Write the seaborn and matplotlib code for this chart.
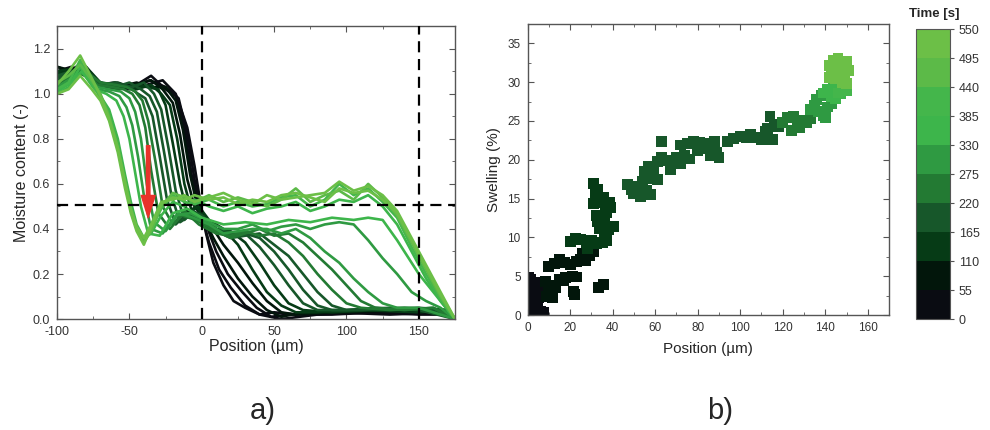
import numpy as np
import pandas as pd
import seaborn as sns
import matplotlib
matplotlib.use("Agg")
import matplotlib.pyplot as plt
from matplotlib.colors import ListedColormap, BoundaryNorm
from matplotlib.ticker import MultipleLocator

# time colour steps (0..550 s, 55 s bins)
time_bounds = list(range(0, 551, 55))
time_colors = ['#0a0c12', '#02160b', '#063b16', '#17572a', '#237a33',
               '#2f9a42', '#3db54b', '#44b64b', '#5cba48', '#6cbf47']

# a) moisture profiles, one per time step
curve_times = [5, 20, 40, 65, 90, 115, 140, 165, 190, 215, 240, 265, 290, 315, 340,
               380, 430, 480, 520, 545]

light_x = [-100, -92, -84, -76, -70, -64, -58, -53, -49, -45, -40, -35, -28, -20, -12, -5,
           5, 15, 25, 35, 45, 55, 65, 75, 85, 95, 105, 115, 125, 135, 145, 155, 165, 175]

curve_x = [
    [-100, -92, -84, -75, -62, -50, -38, -27, -18, -10, -5, -1, 3, 8, 15, 22, 30, 40, 50, 65, 90, 120, 150, 170, 175],
    [-100, -90, -82, -72, -60, -48, -36, -25, -16, -10, -5, 0, 5, 12, 20, 30, 40, 55, 80, 110, 140, 170, 175],
    [-100, -90, -80, -70, -58, -45, -35, -25, -18, -12, -7, -2, 3, 10, 18, 28, 38, 48, 60, 90, 130, 170, 175],
    [-100, -90, -80, -70, -58, -45, -35, -25, -18, -13, -8, -3, 2, 8, 15, 25, 35, 45, 55, 70, 100, 140, 170, 175],
    [-100, -88, -80, -70, -58, -45, -35, -27, -20, -15, -10, -5, 0, 8, 15, 25, 35, 45, 55, 65, 90, 130, 170, 175],
    [-100, -90, -80, -70, -58, -45, -35, -28, -22, -17, -12, -7, -2, 5, 15, 25, 35, 45, 55, 65, 80, 110, 150, 170, 175],
    [-100, -90, -80, -70, -58, -45, -38, -30, -25, -20, -15, -10, -4, 2, 10, 20, 30, 40, 50, 60, 70, 90, 120, 150, 170, 175],
    [-100, -90, -80, -70, -58, -48, -40, -33, -28, -23, -18, -12, -6, 0, 10, 20, 30, 40, 50, 60, 70, 80, 100, 130, 160, 175],
    [-100, -90, -82, -70, -60, -50, -42, -36, -31, -26, -21, -15, -8, 0, 10, 20, 30, 40, 50, 60, 70, 80, 90, 110, 140, 170, 175],
    [-100, -90, -80, -70, -60, -50, -44, -39, -34, -29, -24, -18, -10, 0, 10, 20, 30, 40, 50, 60, 70, 80, 90, 100, 120, 150, 175],
    [-100, -90, -80, -70, -60, -52, -46, -41, -37, -32, -27, -20, -12, -2, 10, 20, 30, 40, 50, 60, 70, 80, 90, 100, 110, 130, 160, 175],
    [-100, -90, -82, -72, -62, -54, -48, -43, -39, -35, -30, -22, -14, -4, 10, 20, 30, 40, 50, 60, 70, 80, 90, 100, 110, 120, 140, 160, 175],
    [-100, -90, -82, -72, -64, -56, -50, -46, -42, -38, -33, -25, -16, -6, 5, 15, 25, 35, 45, 55, 65, 75, 85, 95, 105, 115, 125, 135, 150, 175],
    [-100, -90, -82, -72, -64, -57, -52, -48, -44, -40, -35, -27, -18, -8, 5, 15, 25, 35, 45, 55, 65, 75, 85, 95, 105, 115, 125, 135, 145, 155, 165, 175],
    [-100, -90, -83, -74, -66, -59, -54, -50, -46, -42, -37, -29, -20, -10, 0, 15, 30, 45, 60, 75, 90, 105, 115, 125, 135, 150, 165, 175],
    light_x, light_x, light_x, light_x, light_x,
]

curve_y = [
    [1.12, 1.10, 1.13, 1.05, 1.03, 1.02, 1.04, 1.06, 1.00, 0.85, 0.68, 0.52, 0.38, 0.25, 0.15, 0.08, 0.05, 0.02, 0.03, 0.02, 0.02, 0.03, 0.02, 0.02, 0.0],
    [1.10, 1.12, 1.09, 1.04, 1.05, 1.03, 1.06, 1.03, 0.98, 0.82, 0.62, 0.46, 0.34, 0.22, 0.14, 0.06, 0.02, 0.0, 0.02, 0.03, 0.03, 0.02, 0.0],
    [1.08, 1.10, 1.11, 1.03, 1.02, 1.04, 1.08, 1.02, 0.99, 0.85, 0.64, 0.50, 0.42, 0.30, 0.20, 0.12, 0.05, 0.01, 0.02, 0.03, 0.02, 0.03, 0.0],
    [1.10, 1.09, 1.12, 1.04, 1.03, 1.05, 1.03, 1.03, 0.97, 0.84, 0.64, 0.50, 0.44, 0.36, 0.28, 0.18, 0.10, 0.04, 0.01, 0.03, 0.03, 0.04, 0.03, 0.0],
    [1.12, 1.10, 1.08, 1.05, 1.03, 1.04, 1.06, 1.02, 0.96, 0.82, 0.62, 0.50, 0.46, 0.40, 0.33, 0.25, 0.16, 0.08, 0.03, 0.02, 0.03, 0.04, 0.03, 0.0],
    [1.10, 1.11, 1.08, 1.04, 1.05, 1.02, 1.04, 1.00, 0.95, 0.80, 0.60, 0.48, 0.50, 0.44, 0.40, 0.33, 0.22, 0.12, 0.06, 0.03, 0.03, 0.04, 0.03, 0.04, 0.0],
    [1.09, 1.10, 1.12, 1.05, 1.02, 1.04, 1.03, 1.02, 0.95, 0.78, 0.60, 0.47, 0.50, 0.45, 0.40, 0.39, 0.34, 0.25, 0.15, 0.07, 0.04, 0.03, 0.04, 0.05, 0.04, 0.0],
    [1.08, 1.10, 1.09, 1.05, 1.04, 1.03, 1.05, 1.00, 0.93, 0.76, 0.57, 0.44, 0.48, 0.46, 0.40, 0.38, 0.38, 0.32, 0.24, 0.15, 0.07, 0.04, 0.04, 0.05, 0.04, 0.0],
    [1.06, 1.09, 1.12, 1.04, 1.03, 1.05, 1.02, 0.99, 0.92, 0.74, 0.55, 0.43, 0.46, 0.45, 0.40, 0.37, 0.38, 0.36, 0.30, 0.22, 0.13, 0.06, 0.04, 0.04, 0.05, 0.04, 0.0],
    [1.07, 1.10, 1.08, 1.04, 1.05, 1.03, 1.00, 0.98, 0.90, 0.72, 0.53, 0.42, 0.47, 0.44, 0.39, 0.36, 0.37, 0.38, 0.33, 0.28, 0.20, 0.12, 0.06, 0.04, 0.05, 0.04, 0.0],
    [1.05, 1.08, 1.10, 1.05, 1.04, 1.03, 1.01, 0.97, 0.88, 0.70, 0.50, 0.42, 0.48, 0.42, 0.38, 0.37, 0.39, 0.37, 0.38, 0.34, 0.28, 0.20, 0.13, 0.07, 0.05, 0.04, 0.05, 0.0],
    [1.04, 1.08, 1.11, 1.04, 1.03, 1.02, 1.00, 0.95, 0.85, 0.66, 0.47, 0.40, 0.46, 0.44, 0.39, 0.36, 0.38, 0.40, 0.37, 0.38, 0.34, 0.28, 0.22, 0.15, 0.08, 0.05, 0.04, 0.05, 0.0],
    [1.03, 1.07, 1.10, 1.03, 1.02, 1.01, 0.98, 0.92, 0.80, 0.60, 0.43, 0.39, 0.47, 0.45, 0.42, 0.38, 0.39, 0.40, 0.40, 0.38, 0.40, 0.36, 0.30, 0.25, 0.18, 0.12, 0.07, 0.05, 0.05, 0.0],
    [1.02, 1.06, 1.09, 1.02, 1.01, 0.99, 0.94, 0.86, 0.72, 0.55, 0.40, 0.38, 0.46, 0.47, 0.43, 0.40, 0.40, 0.42, 0.39, 0.41, 0.42, 0.40, 0.42, 0.43, 0.42, 0.35, 0.27, 0.20, 0.12, 0.08, 0.05, 0.0],
    [1.01, 1.05, 1.10, 1.02, 1.00, 0.97, 0.90, 0.80, 0.65, 0.50, 0.38, 0.37, 0.47, 0.49, 0.45, 0.42, 0.43, 0.42, 0.44, 0.43, 0.45, 0.44, 0.45, 0.44, 0.35, 0.20, 0.08, 0.0],
    [1.00, 1.03, 1.12, 1.04, 0.99, 0.93, 0.80, 0.64, 0.52, 0.42, 0.36, 0.38, 0.46, 0.52, 0.50, 0.53, 0.50, 0.48, 0.50, 0.47, 0.49, 0.50, 0.52, 0.48, 0.50, 0.53, 0.52, 0.55, 0.50, 0.42, 0.30, 0.18, 0.08, 0.0],
    [1.02, 1.05, 1.15, 1.05, 0.98, 0.91, 0.78, 0.62, 0.50, 0.41, 0.35, 0.40, 0.49, 0.55, 0.52, 0.51, 0.53, 0.50, 0.52, 0.50, 0.51, 0.54, 0.55, 0.50, 0.53, 0.60, 0.55, 0.58, 0.52, 0.45, 0.32, 0.20, 0.09, 0.0],
    [1.05, 1.08, 1.13, 1.06, 1.00, 0.90, 0.76, 0.60, 0.48, 0.40, 0.34, 0.39, 0.50, 0.56, 0.54, 0.52, 0.55, 0.52, 0.54, 0.52, 0.50, 0.53, 0.58, 0.52, 0.55, 0.57, 0.53, 0.60, 0.54, 0.46, 0.34, 0.22, 0.10, 0.0],
    [1.00, 1.02, 1.08, 1.02, 0.97, 0.88, 0.74, 0.58, 0.47, 0.39, 0.33, 0.41, 0.51, 0.54, 0.53, 0.55, 0.53, 0.54, 0.51, 0.53, 0.52, 0.55, 0.56, 0.54, 0.52, 0.58, 0.56, 0.57, 0.53, 0.47, 0.35, 0.23, 0.11, 0.0],
    [1.04, 1.10, 1.17, 1.07, 0.99, 0.89, 0.76, 0.61, 0.49, 0.41, 0.36, 0.42, 0.52, 0.53, 0.55, 0.52, 0.54, 0.56, 0.53, 0.51, 0.55, 0.53, 0.54, 0.55, 0.56, 0.61, 0.57, 0.59, 0.55, 0.48, 0.36, 0.24, 0.12, 0.0],
]

# b) swelling vs position, coloured by time
swell_x = [0.5, 1.5, 2.5, 4, 6, 7.5, 1, 2, 3, 4.5, 1, 2.2, 3.5, 5, 0.8, 1.5, 4.5, 6, 7.5, 0.5,
           9, 11, 13, 8.5, 11.5, 10,
           15, 18, 21, 23, 17, 21.5, 22,
           10, 12.5, 15, 17.5, 20, 23, 25, 27, 29, 26, 31,
           20, 22.5, 25, 27.5, 30, 28, 32.5, 35, 37,
           33.5, 35.5,
           31, 33, 32, 34, 35.5, 31, 36.5, 38.5, 37, 35, 33, 32.5, 36, 34, 38, 40.5, 36, 39,
           47, 49, 52, 54, 50, 53, 56, 58, 55.5,
           55, 57, 59, 61, 58, 61, 63, 65, 68, 70, 72, 67, 74, 76,
           63, 72, 75, 78, 81, 84, 86, 88, 83, 80, 86, 90, 89,
           94, 97, 100, 103, 105, 108, 110, 112, 115, 113, 116, 118, 114,
           120, 122, 125, 127, 129, 131, 124, 128, 133,
           133, 135, 137, 139, 136, 138, 141, 143, 140,
           139, 141, 143, 145, 147, 144, 146,
           146, 148, 150, 149,
           142, 144, 146, 148, 150, 143, 145, 147, 149, 151, 142, 148, 145, 150]
swell_y = [0.2, 0.5, 0.3, 0.2, 0.4, 0.3, 1.2, 1.8, 1.0, 1.5, 2.6, 3.2, 2.5, 2.2, 3.8, 4.6, 4.2, 3.4, 2.8, 4.8,
           2.4, 3.0, 3.6, 4.3, 2.2, 3.8,
           4.6, 4.8, 5.0, 4.9, 4.4, 3.0, 2.6,
           6.2, 6.6, 7.2, 6.8, 6.5, 6.9, 7.2, 7.0, 7.6, 7.9, 8.2,
           9.5, 9.8, 9.7, 9.3, 9.6, 8.6, 9.2, 9.4, 9.6,
           3.6, 3.9,
           17.0, 16.2, 15.5, 14.5, 15.2, 14.4, 14.0, 14.5, 13.2, 12.6, 12.0, 12.8, 11.8, 11.2, 11.0, 11.4, 10.8, 13.8,
           16.8, 16.2, 16.5, 17.2, 15.6, 15.2, 16.0, 15.5, 17.7,
           18.5, 19.1, 18.3, 17.4, 17.6, 19.8, 20.3, 19.9, 19.7, 20.3, 19.5, 18.8, 20.6, 20.1,
           22.4, 21.9, 22.1, 22.3, 22.2, 22.1, 21.7, 22.3, 21.4, 21.2, 20.6, 20.3, 20.9,
           22.4, 22.7, 23.0, 22.8, 23.3, 22.9, 22.6, 23.6, 22.6, 24.0, 24.5, 24.3, 25.6,
           24.8, 25.4, 25.6, 24.6, 25.1, 24.8, 23.8, 24.2, 25.3,
           26.5, 27.0, 26.2, 25.7, 27.8, 28.3, 26.8, 27.3, 25.4,
           28.6, 29.1, 28.2, 27.9, 28.5, 29.7, 29.3,
           28.6, 29.5, 28.9, 30.1,
           32.2, 32.8, 33.1, 32.4, 32.6, 31.4, 30.5, 31.6, 30.9, 31.5, 30.6, 29.9, 31.7, 29.8]
swell_t = ([20] * 20 + [60] * 6 + [80] * 7 + [100] * 11 + [150] * 9 + [90] * 2 + [140] * 18 +
           [170] * 9 + [190] * 14 + [200] * 13 + [210] * 13 + [250] * 9 + [300] * 9 +
           [360] * 7 + [430] * 4 + [520] * 14)

cmap = ListedColormap(time_colors)
norm = BoundaryNorm(time_bounds, cmap.N)

sns.set_style("ticks")
plt.rcParams['font.family'] = ['Liberation Sans', 'DejaVu Sans']
plt.rcParams['axes.unicode_minus'] = False
plt.rcParams['axes.edgecolor'] = '#555555'
plt.rcParams['xtick.color'] = '#555555'
plt.rcParams['ytick.color'] = '#555555'
plt.rcParams['xtick.labelcolor'] = '#333333'
plt.rcParams['ytick.labelcolor'] = '#333333'

fig = plt.figure(figsize=(9.9, 4.3), dpi=100)
ax1 = fig.add_axes([0.0576, 0.258, 0.402, 0.681])
ax2 = fig.add_axes([0.533, 0.2674, 0.365, 0.677])
cax = fig.add_axes([0.925, 0.258, 0.0343, 0.674])

# profiles
rows = []
for i, (xs, ys) in enumerate(zip(curve_x, curve_y)):
    for xv, yv in zip(xs, ys):
        rows.append((i, xv, yv))
prof = pd.DataFrame(rows, columns=['curve', 'pos', 'moist'])
line_pal = {i: cmap(norm(t)) for i, t in enumerate(curve_times)}
sns.lineplot(data=prof, x='pos', y='moist', hue='curve', palette=line_pal,
             estimator=None, sort=False, legend=False, linewidth=1.9, ax=ax1)

dash = (0, (5, 3))
ax1.axvline(0, color='black', lw=1.6, ls=dash, zorder=5)
ax1.axvline(150, color='black', lw=1.6, ls=dash, zorder=5)
ax1.axhline(0.505, color='black', lw=1.6, ls=dash, zorder=5)
ax1.annotate('', xy=(-37, 0.45), xytext=(-37, 0.77),
             arrowprops=dict(width=2.5, headwidth=10, headlength=16, color='#e8332b', shrink=0),
             zorder=6)

ax1.set_xlim(-100, 175)
ax1.set_ylim(0, 1.3)
ax1.xaxis.set_major_locator(MultipleLocator(50))
ax1.xaxis.set_minor_locator(MultipleLocator(25))
ax1.yaxis.set_major_locator(MultipleLocator(0.2))
ax1.yaxis.set_minor_locator(MultipleLocator(0.1))
ax1.set_xlabel('Position (µm)', fontsize=11.5, labelpad=1)
ax1.set_ylabel('Moisture content (-)', fontsize=11.5, labelpad=3)

# swelling scatter
sw = pd.DataFrame({'pos': swell_x, 'swell': swell_y, 'time': swell_t})
pt_pal = {t: cmap(norm(t)) for t in sorted(set(swell_t))}
sns.scatterplot(data=sw, x='pos', y='swell', hue='time', palette=pt_pal, marker='s',
                s=62, linewidth=0, legend=False, ax=ax2)
ax2.set_xlim(0, 170)
ax2.set_ylim(0, 37.5)
ax2.xaxis.set_major_locator(MultipleLocator(20))
ax2.xaxis.set_minor_locator(MultipleLocator(10))
ax2.yaxis.set_major_locator(MultipleLocator(5))
ax2.yaxis.set_minor_locator(MultipleLocator(2.5))
ax2.set_xlabel('Position (µm)', fontsize=11, labelpad=6)
ax2.set_ylabel('Swelling (%)', fontsize=11, labelpad=5)

for ax, fs in ((ax1, 9), (ax2, 8.5)):
    ax.tick_params(which='both', direction='in', top=True, right=True, labelsize=fs, pad=5)
    ax.tick_params(which='major', length=4)
    ax.tick_params(which='minor', length=2.5)
    for s in ax.spines.values():
        s.set_linewidth(1.0)

cb = fig.colorbar(plt.cm.ScalarMappable(norm=norm, cmap=cmap), cax=cax, ticks=time_bounds)
cb.ax.tick_params(labelsize=9, length=3)
cb.outline.set_edgecolor('#555555')
fig.text(0.944, 0.968, 'Time [s]', fontsize=9.5, fontweight='bold', ha='center', va='center')

fig.text(0.265, 0.045, 'a)', fontsize=21, ha='center', va='center',
         family=['Liberation Sans Narrow', 'Liberation Sans'])
fig.text(0.727, 0.045, 'b)', fontsize=21, ha='center', va='center',
         family=['Liberation Sans Narrow', 'Liberation Sans'])

fig.savefig('out.png', dpi=100)
